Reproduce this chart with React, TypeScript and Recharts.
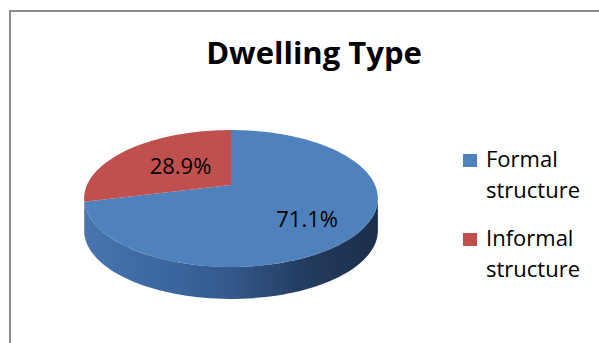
import { PieChart, Pie, Cell, Legend, Customized } from 'recharts'

const CATEGORIES = ['Formal structure', 'Informal structure']
const SHARES = [71.1, 28.9]
const COLORS = ['#4f81bd', '#c0504d']
const SIDE_COLORS = [
  ['#4675b0', '#3c68a2', '#34598c', '#233c5f', '#1b2e4b'],
  ['#a8423f', '#9c3c39', '#8a3432', '#682624', '#561f1e'],
]

const data = CATEGORIES.map((name, i) => ({ name, value: SHARES[i] }))

const FONT = '"Open Sans", "Noto Sans", sans-serif'

// 3d look: squash + a bit of perspective on the top face, plus a side wall
const TILT = 0.457
const PERSP = 0.197
const DEPTH = 32
// where the value text sits: fraction of radius, extra y shift
const LABEL_POS = [
  [0.62, 6],
  [0.47, -2],
]

function project(cx: number, cy: number, r: number, deg: number, f = 1) {
  const rad = (deg * Math.PI) / 180
  const X = Math.cos(rad) * f
  const Z = Math.sin(rad) * f
  const w = 1 + PERSP * Z
  return [cx + (r * X) / w, cy - (r * TILT * Z) / w]
}

function rim(cx: number, cy: number, r: number, from: number, to: number, dy = 0) {
  const n = Math.max(2, Math.ceil(Math.abs(to - from) / 2))
  const pts: string[] = []
  for (let i = 0; i <= n; i++) {
    const [x, y] = project(cx, cy, r, from + ((to - from) * i) / n)
    pts.push(`${x.toFixed(2)},${(y + dy).toFixed(2)}`)
  }
  return pts
}

// eslint-disable-next-line @typescript-eslint/no-explicit-any
function renderSlice(props: any) {
  const { cx, cy, outerRadius, startAngle, endAngle, index, value } = props
  const r = outerRadius
  const lo = Math.min(startAngle, endAngle)
  const hi = Math.max(startAngle, endAngle)
  const edge = (Math.asin(PERSP) * 180) / Math.PI
  const s1 = Math.max(lo, -180 + edge)
  const s2 = Math.min(hi, -edge)

  let side = ''
  if (s2 > s1) {
    const upper = rim(cx, cy, r, s1, s2)
    const lower = rim(cx, cy, r, s2, s1, DEPTH)
    side = `M${upper.join(' L')} L${lower.join(' L')} Z`
  }
  const top = `M${cx},${cy} L${rim(cx, cy, r, startAngle, endAngle).join(' L')} Z`

  const mid = (startAngle + endAngle) / 2
  const [f, shift] = LABEL_POS[index] ?? [0.55, 0]
  const [tx, ty] = project(cx, cy, r, mid, f)
  const stops = SIDE_COLORS[index]
  const gx = r / Math.sqrt(1 - PERSP * PERSP)

  return (
    <g key={`slice-${index}`}>
      <defs>
        <linearGradient id={`side-${index}`} gradientUnits="userSpaceOnUse" x1={cx - gx} x2={cx + gx} y1={0} y2={0}>
          {stops.map((c, i) => (
            <stop key={i} offset={i / (stops.length - 1)} stopColor={c} />
          ))}
        </linearGradient>
      </defs>
      {side && <path d={side} fill={`url(#side-${index})`} />}
      <path d={top} fill={COLORS[index]} />
      <text
        x={tx}
        y={ty + shift}
        textAnchor="middle"
        dominantBaseline="central"
        fontFamily={FONT}
        fontSize={22}
        fill="#000"
      >
        {`${Number(value).toFixed(1)}%`}
      </text>
    </g>
  )
}

// eslint-disable-next-line @typescript-eslint/no-explicit-any
function LegendContent({ payload }: any) {
  return (
    <div style={{ fontFamily: FONT, fontSize: 22, lineHeight: '31px', color: '#000' }}>
      {/* eslint-disable-next-line @typescript-eslint/no-explicit-any */}
      {(payload ?? []).map((p: any, i: number) => {
        const [first, ...rest] = String(p.value).split(' ')
        return (
          <div key={i} style={{ position: 'relative', paddingLeft: 23, marginBottom: i === 0 ? 17 : 0 }}>
            <span
              style={{ position: 'absolute', left: 0, top: 11, width: 14, height: 13, background: p.color }}
            />
            <div>{first}</div>
            <div>{rest.join(' ')}</div>
          </div>
        )
      })}
    </div>
  )
}

function Title() {
  return (
    <text x={314} y={64} textAnchor="middle" fontFamily={FONT} fontWeight={700} fontSize={31} fill="#000">
      Dwelling Type
    </text>
  )
}

export default function App() {
  return (
    <div style={{ position: 'absolute', left: 0, top: 0, width: 599, height: 343, overflow: 'hidden', background: '#fff' }}>
      <div
        style={{
          position: 'absolute',
          left: 9,
          top: 10,
          width: 700,
          height: 400,
          border: '2px solid #8c8c8c',
          boxSizing: 'border-box',
        }}
      />
      <PieChart width={599} height={343} margin={{ top: 0, right: 0, bottom: 0, left: 0 }}>
        <Pie
          data={data}
          dataKey="value"
          nameKey="name"
          cx={231}
          cy={185}
          outerRadius={144}
          startAngle={90}
          endAngle={-270}
          stroke="none"
          label={renderSlice}
          labelLine={false}
          isAnimationActive={false}
        >
          {data.map((_, i) => (
            <Cell key={`cell-${i}`} fill={COLORS[i]} fillOpacity={0} />
          ))}
        </Pie>
        <Legend
          layout="vertical"
          align="right"
          verticalAlign="top"
          content={<LegendContent />}
          wrapperStyle={{ left: 463, top: 143, width: 136 }}
        />
        <Customized component={<Title />} />
      </PieChart>
    </div>
  )
}
